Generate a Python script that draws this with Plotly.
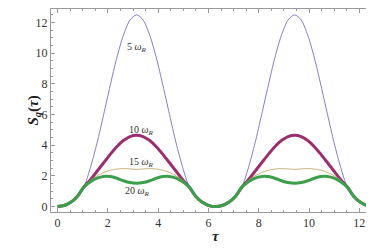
import plotly.graph_objects as go

# positions along tau where values were read
tau = [0, 0.262, 0.524, 0.785, 1.047, 1.309, 1.571, 1.833, 2.094, 2.356, 2.618, 2.880, 3.142,
       3.403, 3.665, 3.927, 4.189, 4.451, 4.712, 4.974, 5.236, 5.498, 5.760, 6.021, 6.283,
       6.545, 6.807, 7.069, 7.330, 7.592, 7.854, 8.116, 8.378, 8.639, 8.901, 9.163, 9.425,
       9.687, 9.948, 10.210, 10.472, 10.734, 10.996, 11.257, 11.519, 11.781, 12.043, 12.305, 12.566]

s_5 = [0, 0.06, 0.27, 0.65, 1.27, 2.55, 4.15, 6.0, 7.9, 9.7, 11.17, 12.16, 12.5,
       12.16, 11.17, 9.7, 7.9, 6.0, 4.15, 2.55, 1.27, 0.65, 0.27, 0.06, 0,
       0.06, 0.27, 0.65, 1.27, 2.55, 4.15, 6.0, 7.9, 9.7, 11.17, 12.16, 12.5,
       12.16, 11.17, 9.7, 7.9, 6.0, 4.15, 2.55, 1.27, 0.65, 0.27, 0.06, 0]

s_10 = [0, 0.06, 0.27, 0.65, 1.27, 1.75, 2.3, 2.85, 3.4, 3.9, 4.3, 4.56, 4.65,
        4.56, 4.3, 3.9, 3.4, 2.85, 2.3, 1.75, 1.27, 0.65, 0.27, 0.06, 0,
        0.06, 0.27, 0.65, 1.27, 1.75, 2.3, 2.85, 3.4, 3.9, 4.3, 4.56, 4.65,
        4.56, 4.3, 3.9, 3.4, 2.85, 2.3, 1.75, 1.27, 0.65, 0.27, 0.06, 0]

s_15 = [0, 0.06, 0.27, 0.65, 1.27, 1.7, 2.0, 2.22, 2.36, 2.44, 2.47, 2.45, 2.42,
        2.45, 2.47, 2.44, 2.36, 2.22, 2.0, 1.7, 1.27, 0.65, 0.27, 0.06, 0,
        0.06, 0.27, 0.65, 1.27, 1.7, 2.0, 2.22, 2.36, 2.44, 2.47, 2.45, 2.42,
        2.45, 2.47, 2.44, 2.36, 2.22, 2.0, 1.7, 1.27, 0.65, 0.27, 0.06, 0]

s_20 = [0, 0.06, 0.27, 0.65, 1.27, 1.62, 1.85, 1.96, 1.95, 1.84, 1.68, 1.56, 1.52,
        1.56, 1.68, 1.84, 1.95, 1.96, 1.85, 1.62, 1.27, 0.65, 0.27, 0.06, 0,
        0.06, 0.27, 0.65, 1.27, 1.62, 1.85, 1.96, 1.95, 1.84, 1.68, 1.56, 1.52,
        1.56, 1.68, 1.84, 1.95, 1.96, 1.85, 1.62, 1.27, 0.65, 0.27, 0.06, 0]

labels = ["5 <i>ω</i><sub><i>R</i></sub>", "10 <i>ω</i><sub><i>R</i></sub>",
          "15 <i>ω</i><sub><i>R</i></sub>", "20 <i>ω</i><sub><i>R</i></sub>"]
label_x = [3.15, 3.32, 3.33, 3.19]
label_y = [10.34, 4.94, 2.84, 0.99]

series = [s_5, s_10, s_15, s_20]
colors = ["#7e7ed4", "#9b2f6e", "#c8b47a", "#3c9f4c"]
widths = [1, 3, 1, 3]

fig = go.Figure()
for s, c, w in zip(series, colors, widths):
    fig.add_trace(go.Scatter(x=tau, y=s, mode="lines",
                             line=dict(color=c, width=w, shape="spline", smoothing=0.8),
                             hoverinfo="skip", showlegend=False))

serif = "Liberation Serif"
for t, lx, ly in zip(labels, label_x, label_y):
    fig.add_annotation(x=lx, y=ly, text=t, showarrow=False,
                       font=dict(family=serif, size=10, color="#333"))

fig.add_annotation(xref="paper", yref="paper", x=0, y=0.5, xshift=-29,
                   text="<b><i>S</i><sub><i>q</i></sub>(<i>τ</i>)</b>", textangle=-90,
                   showarrow=False, font=dict(family=serif, size=15, color="#222"))
fig.add_annotation(xref="paper", yref="paper", x=0.5, y=0, yshift=-34,
                   text="<b><i>τ</i></b>", showarrow=False,
                   font=dict(family=serif, size=15, color="#222"))

axis_common = dict(showline=True, linecolor="#999", linewidth=1, mirror="ticks",
                   ticks="inside", ticklen=4, tickcolor="#999", showgrid=False,
                   zeroline=False, automargin=False,
                   tickfont=dict(family=serif, size=12, color="#333"))

fig.update_xaxes(range=[-0.26, 12.82], dtick=2, tick0=0,
                 minor=dict(ticks="inside", ticklen=2, dtick=0.5, tickcolor="#999"),
                 **axis_common)
fig.update_yaxes(range=[-0.36, 12.88], dtick=2, tick0=0,
                 minor=dict(ticks="inside", ticklen=2, dtick=0.5, tickcolor="#999"),
                 **axis_common)

fig.update_layout(width=374, height=248, margin=dict(l=43, r=2, t=1, b=44),
                  paper_bgcolor="white", plot_bgcolor="white",
                  font=dict(family=serif))

fig.write_html("out.html")
